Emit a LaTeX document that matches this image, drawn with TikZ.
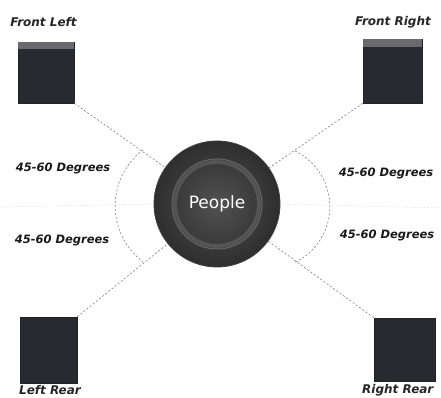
\documentclass[tikz,border=0pt]{standalone}
\usepackage{fontspec}
\setsansfont{DejaVu Sans}
\usepackage{tikz}
\usetikzlibrary{positioning, calc}
\definecolor{spkdark}{RGB}{40,42,48}
\definecolor{spktop}{RGB}{105,105,110}
\definecolor{guidegray}{RGB}{110,110,110}
\tikzset{
    spkbox/.style={rectangle, fill=spkdark, draw=spkdark!80!black, line width=0.6pt, minimum width=#1, minimum height=62pt, inner sep=0pt},
    spklabel/.style={font=\sffamily\bfseries\itshape\fontsize{12}{12}\selectfont, text=black!85, inner sep=0pt},
    anglabel/.style={font=\sffamily\bfseries\itshape\fontsize{11.5}{12}\selectfont, text=black!90, inner sep=0pt},
    guideline/.style={draw=guidegray, dash pattern=on 2pt off 2pt, line width=0.5pt},
    faintline/.style={draw=guidegray!30, dash pattern=on 1.5pt off 2pt, line width=0.4pt},
    crowd/.style={circle, minimum size=126pt, inner sep=0pt, inner color=black!68, outer color=black!82, draw=black!75, line width=0.8pt}
}

\begin{document}
\begin{tikzpicture}[x=1pt, y=1pt]
\useasboundingbox (0,0) rectangle (441,398);
\fill[white] (0,0) rectangle (441,398);

% speakers
\node[spkbox=56pt, minimum height=61pt] (fl) at (46,325.5) {};
\node[spkbox=59pt, minimum height=64pt] (fr) at (392.5,327) {};
\node[spkbox=57pt, minimum height=66pt] (lr) at (48.5,48) {};
\node[spkbox=61pt, minimum height=63pt] (rr) at (404.5,48.5) {};
\fill[spktop] (fl.north west) rectangle ($(fl.north east)+(0,-7)$);
\fill[spktop] (fr.north west) rectangle ($(fr.north east)+(0,-8)$);

\node[spklabel] (fltxt) at (43.5,375.5) {Front Left};
\node[spklabel] (frtxt) at (393,376) {Front Right};
\node[spklabel] (lrtxt) at (50,8) {Left Rear};
\node[spklabel, anchor=west] (rrtxt) at (362,8) {Right Rear};

% listeners
\node[crowd] (people) at (217,194) {};
\draw[white!50!gray, line width=4pt, opacity=0.2] (people.center) circle (42pt);
\draw[white!50!gray, line width=1pt, opacity=0.35] (people.center) circle (45pt);
\node[font=\sffamily\fontsize{17}{18}\selectfont, text=white] (ptxt) at (people.center) {People};

% guide lines
\coordinate (hl) at (0,191);
\coordinate (hr) at (441,190);
\draw[faintline] (hl) -- (people.west);
\draw[faintline] (people.east) -- (hr);
\draw[guideline] (fl.south east) -- (people);
\draw[guideline] (fr.south west) -- (people);
\draw[guideline] (lr.north east) -- (people);
\draw[guideline] (rr.north west) -- (people);

\coordinate (arcl) at (143,248);
\coordinate (arcr) at (295,247);
\draw[guideline] (arcl) arc[start angle=127, end angle=233, radius=70];
\draw[guideline] (arcr) arc[start angle=64, end angle=-64, radius=62];

\node[anglabel] (degul) at (63,230) {45-60 Degrees};
\node[anglabel] (degll) at (62,158) {45-60 Degrees};
\node[anglabel] (degur) at (386,225) {45-60 Degrees};
\node[anglabel] (deglr) at (387,163) {45-60 Degrees};
\end{tikzpicture}
\end{document}
